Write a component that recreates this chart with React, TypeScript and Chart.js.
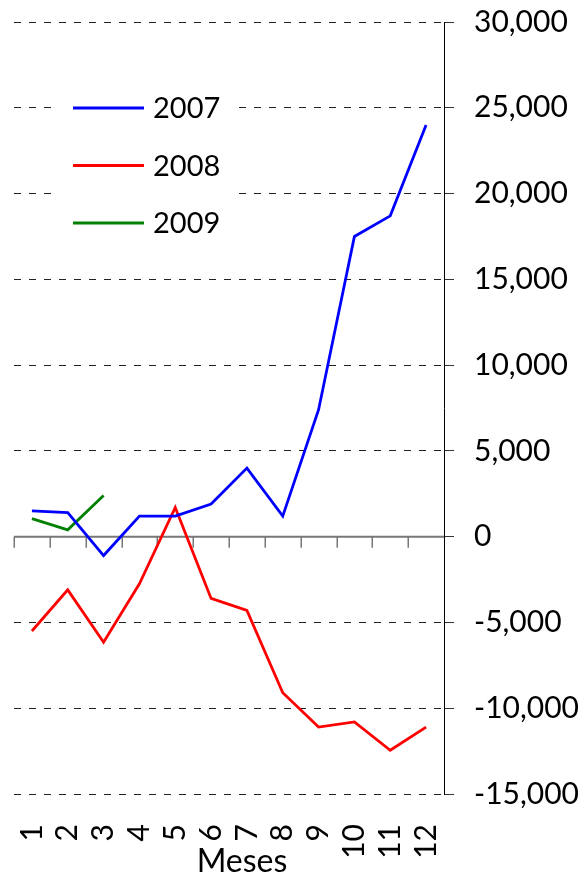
import React, { useEffect, useRef } from "react";
import { Chart, registerables } from "chart.js";

Chart.register(...registerables);

const months = ["1", "2", "3", "4", "5", "6", "7", "8", "9", "10", "11", "12"];
const series2007 = [1500, 1400, -1100, 1200, 1200, 1900, 4000, 1200, 7400, 17500, 18700, 24000];
const series2008 = [-5500, -3100, -6150, -2750, 1700, -3600, -4300, -9100, -11100, -10800, -12450, -11100];
const series2009 = [1050, 400, 2400];
const seriesLabels = ["2007", "2008", "2009"];
const seriesColors = ["#0000ff", "#ff0000", "#008000"];
const yTickValues = { min: -15000, max: 30000, step: 5000 };
const xTitle = "Meses";

const FONT = "Lato";

const zeroLinePlugin = {
  id: "zeroLine",
  beforeDatasetsDraw(chart: any) {
    const { ctx, chartArea, scales } = chart;
    const x = scales.x;
    const y = scales.y;
    const y0 = y.getPixelForValue(0);
    ctx.save();
    ctx.strokeStyle = "#777777";
    ctx.lineWidth = 2;
    ctx.beginPath();
    ctx.moveTo(chartArea.left, y0);
    ctx.lineTo(chartArea.right, y0);
    ctx.stroke();
    ctx.lineWidth = 1.5;
    for (let i = 0; i < months.length; i++) {
      const px = Math.round(x.getPixelForValue(i - 0.5)) + 0.25;
      ctx.beginPath();
      ctx.moveTo(px, y0);
      ctx.lineTo(px, y0 + 11);
      ctx.stroke();
    }
    ctx.restore();
  },
};

const titlePlugin = {
  id: "xTitle",
  afterDraw(chart: any) {
    const { ctx, chartArea } = chart;
    const x = chart.scales.x;
    ctx.save();
    ctx.font = `32px ${FONT}`;
    ctx.fillStyle = "#000000";
    ctx.textAlign = "center";
    ctx.textBaseline = "alphabetic";
    ctx.fillText(xTitle, (chartArea.left + chartArea.right) / 2 + 13, x.bottom - 5);
    ctx.restore();
  },
};

const legendPlugin = {
  id: "customLegend",
  afterDatasetsDraw(chart: any) {
    const { ctx, chartArea } = chart;
    const boxLeft = chartArea.left + 38;
    const boxTop = chartArea.top + 62;
    const boxW = 183;
    const boxH = 165;
    ctx.save();
    ctx.fillStyle = "#ffffff";
    ctx.fillRect(boxLeft, boxTop, boxW, boxH);
    ctx.font = `29px ${FONT}`;
    ctx.textBaseline = "middle";
    ctx.textAlign = "left";
    chart.data.datasets.forEach((ds: any, i: number) => {
      const cy = boxTop + 24 + i * 57.5;
      ctx.strokeStyle = ds.borderColor;
      ctx.lineWidth = 2.8;
      ctx.beginPath();
      ctx.moveTo(boxLeft + 21, cy);
      ctx.lineTo(boxLeft + 92, cy);
      ctx.stroke();
      ctx.fillStyle = "#000000";
      ctx.fillText(ds.label, boxLeft + 101, cy + 1);
    });
    ctx.restore();
  },
};

export default function App() {
  const canvasRef = useRef<HTMLCanvasElement | null>(null);

  useEffect(() => {
    if (!canvasRef.current) return;
    const seriesData = [series2007, series2008, series2009];
    const chart = new Chart(canvasRef.current, {
      type: "line",
      data: {
        labels: months,
        datasets: seriesData.map((d, i) => ({
          label: seriesLabels[i],
          data: d,
          borderColor: seriesColors[i],
          backgroundColor: seriesColors[i],
          borderWidth: 2.8,
          pointRadius: 0,
          tension: 0,
          fill: false,
        })),
      },
      options: {
        animation: false,
        responsive: false,
        devicePixelRatio: 1,
        locale: "en-US",
        layout: { padding: { left: 14, top: 22, right: 0, bottom: 0 } },
        plugins: {
          legend: { display: false },
          tooltip: { enabled: false },
        },
        scales: {
          x: {
            type: "category",
            offset: true,
            grid: { display: false, drawTicks: false },
            border: { display: false },
            ticks: {
              autoSkip: false,
              minRotation: 90,
              maxRotation: 90,
              padding: 30,
              color: "#000000",
              font: { family: FONT, size: 30 },
            },
            title: { display: false },
            afterFit: (s: any) => {
              s.height = 83;
            },
          },
          y: {
            position: "right",
            min: yTickValues.min,
            max: yTickValues.max,
            ticks: {
              stepSize: yTickValues.step,
              padding: 20,
              color: "#000000",
              font: { family: FONT, size: 30 },
            },
            grid: {
              color: (c: any) => (c.tick && c.tick.value === 0 ? "rgba(0,0,0,0)" : "#222222"),
              tickColor: "#333333",
              tickLength: 10,
              lineWidth: 1,
            },
            border: { display: true, color: "#000000", width: 1, dash: [7, 8] },
            afterFit: (s: any) => {
              s.width = 139;
              s.paddingTop = 18;
              s.paddingBottom = 18;
            },
          },
        },
      },
      plugins: [zeroLinePlugin, legendPlugin, titlePlugin],
    } as any);
    return () => chart.destroy();
  }, []);

  return (
    <div style={{ position: "fixed", left: 0, top: 0, width: 583, height: 877, background: "#fff" }}>
      <canvas ref={canvasRef} width={583} height={877} style={{ display: "block" }} />
    </div>
  );
}
